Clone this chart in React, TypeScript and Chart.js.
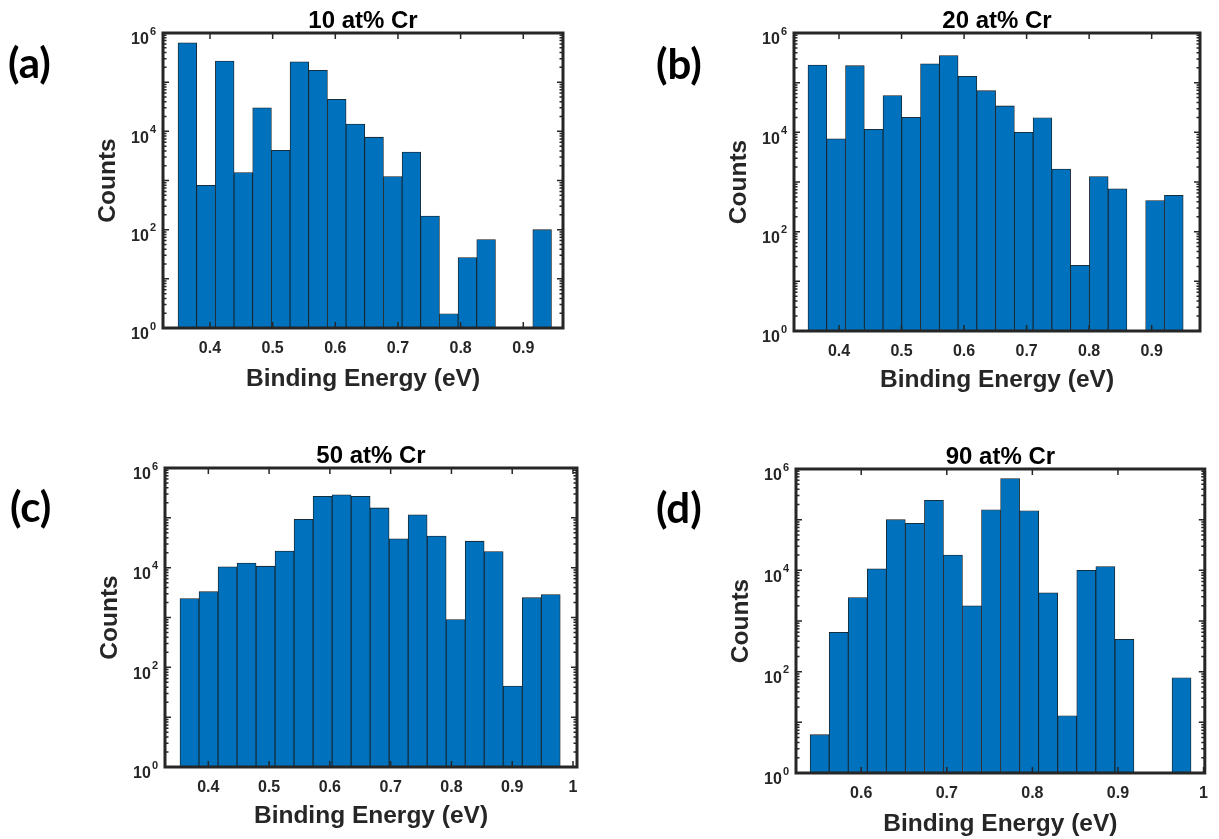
import React, { useEffect, useRef } from 'react';
import { Chart, registerables } from 'chart.js';

Chart.register(...registerables);

const FONT = "'Liberation Sans', Arial, Helvetica, sans-serif";
const LABEL_FONT = "Lato, 'Open Sans', 'DejaVu Sans', sans-serif";

// ---- Panel (a): 10 at% Cr ----
const binsA = [0.3639, 0.3937, 0.4235, 0.4533, 0.4831, 0.5129, 0.5427, 0.5725, 0.6023, 0.6321, 0.6619, 0.6917, 0.7215, 0.7513, 0.7811, 0.8109, 0.8407, 0.8705, 0.9003, 0.9301];
const countsA = [630000, 800, 270000, 1450, 30000, 4100, 260000, 174000, 45000, 14000, 7600, 1200, 3800, 190, 1.95, 27, 63, null, null, 100];

// ---- Panel (b): 20 at% Cr ----
const binsB = [0.3654, 0.3954, 0.4254, 0.4554, 0.4854, 0.5154, 0.5454, 0.5754, 0.6054, 0.6354, 0.6654, 0.6954, 0.7254, 0.7554, 0.7854, 0.8154, 0.8454, 0.8754, 0.9054, 0.9354];
const countsB = [226000, 7400, 220000, 11500, 55000, 20000, 240000, 350000, 134000, 69000, 34000, 10000, 19700, 1830, 21, 1290, 730, null, 425, 540];

// ---- Panel (c): 50 at% Cr ----
const binsC = [0.3690, 0.4003, 0.4316, 0.4629, 0.4942, 0.5254, 0.5567, 0.5880, 0.6193, 0.6506, 0.6818, 0.7131, 0.7444, 0.7757, 0.8070, 0.8382, 0.8695, 0.9008, 0.9321, 0.9634];
const countsC = [2400, 3300, 10400, 12400, 10700, 21500, 93000, 270000, 290000, 270000, 158000, 38000, 115000, 43000, 910, 34000, 21000, 42, 2500, 2900];

// ---- Panel (d): 90 at% Cr ----
const binsD = [0.5514, 0.5737, 0.5959, 0.6182, 0.6404, 0.6627, 0.6850, 0.7072, 0.7295, 0.7517, 0.7740, 0.7963, 0.8185, 0.8408, 0.8630, 0.8853, 0.9076, 0.9298, 0.9521, 0.9743];
const countsD = [5.7, 600, 2900, 10700, 100000, 85000, 240000, 20000, 2000, 157000, 650000, 150000, 3600, 13.5, 10000, 11900, 435, null, null, 76];

// ---- Tick labels ----
const xTicksAB = [0.4, 0.5, 0.6, 0.7, 0.8, 0.9];
const xTicksC = [0.4, 0.5, 0.6, 0.7, 0.8, 0.9, 1.0];
const xTicksD = [0.6, 0.7, 0.8, 0.9, 1.0];
const yTickValues = [1, 1e2, 1e4, 1e6];
const yTickExponents = ['0', '2', '4', '6'];

const titles = ['10 at% Cr', '20 at% Cr', '50 at% Cr', '90 at% Cr'];
const panelLabels = ['(a)', '(b)', '(c)', '(d)'];
const xAxisTitle = 'Binding Energy (eV)';
const yAxisTitle = 'Counts';

type PanelCfg = {
  bins: number[];
  counts: (number | null)[];
  xTicks: number[];
  xMin: number;
  xMax: number;
  title: string;
  label: string;
  box: { x: number; y: number; w: number; h: number };
  area: { l: number; t: number; r: number; b: number };
  labelPos: { x: number; y: number };
  xTitleGap: number;
};

const panels: PanelCfg[] = [
  {
    bins: binsA, counts: countsA, xTicks: xTicksAB, xMin: 0.325, xMax: 0.9634,
    title: titles[0], label: panelLabels[0],
    box: { x: 0, y: 0, w: 609, h: 420 },
    area: { l: 163, t: 33, r: 563, b: 328 },
    labelPos: { x: 8, y: 64 }, xTitleGap: 51,
  },
  {
    bins: binsB, counts: countsB, xTicks: xTicksAB, xMin: 0.328, xMax: 0.9773,
    title: titles[1], label: panelLabels[1],
    box: { x: 609, y: 0, w: 610, h: 420 },
    area: { l: 794, t: 33, r: 1200, b: 331 },
    labelPos: { x: 656, y: 65 }, xTitleGap: 49,
  },
  {
    bins: binsC, counts: countsC, xTicks: xTicksC, xMin: 0.3287, xMax: 1.0066,
    title: titles[2], label: panelLabels[2],
    box: { x: 0, y: 420, w: 609, h: 419 },
    area: { l: 165, t: 468, r: 577, b: 767 },
    labelPos: { x: 10, y: 508 }, xTitleGap: 49,
  },
  {
    bins: binsD, counts: countsD, xTicks: xTicksD, xMin: 0.5238, xMax: 1.0015,
    title: titles[3], label: panelLabels[3],
    box: { x: 609, y: 420, w: 610, h: 419 },
    area: { l: 796, t: 469, r: 1209, b: 773 },
    labelPos: { x: 656, y: 509 }, xTitleGap: 51,
  },
];

const AXIS_COLOR = '#262626';
const TITLE_SIZE = 24.5;
const HALF_LH = (TITLE_SIZE * 1.2) / 2;
const Y_TITLE_GAP = 55;

function framePlugin(c: PanelCfg) {
  return {
    id: 'frame',
    afterDraw(chart: any) {
      const { ctx, chartArea } = chart;
      const { left, right, top, bottom } = chartArea;
      const x = chart.scales.x;
      const y = chart.scales.y;
      ctx.save();
      ctx.strokeStyle = AXIS_COLOR;
      ctx.lineWidth = 1.5;
      ctx.beginPath();
      c.xTicks.forEach((v) => {
        const px = x.getPixelForValue(v);
        ctx.moveTo(px, bottom);
        ctx.lineTo(px, bottom - 6);
        ctx.moveTo(px, top);
        ctx.lineTo(px, top + 6);
      });
      for (let k = 0; k <= 6; k++) {
        const py = y.getPixelForValue(Math.pow(10, k));
        ctx.moveTo(left, py);
        ctx.lineTo(left + 6, py);
        ctx.moveTo(right, py);
        ctx.lineTo(right - 6, py);
        if (k < 6) {
          for (let m = 2; m <= 9; m++) {
            const pm = y.getPixelForValue(m * Math.pow(10, k));
            ctx.moveTo(left, pm);
            ctx.lineTo(left + 3.5, pm);
            ctx.moveTo(right, pm);
            ctx.lineTo(right - 3.5, pm);
          }
        }
      }
      ctx.stroke();
      ctx.lineWidth = 3;
      ctx.strokeRect(left, top, right - left, bottom - top);

      // y tick labels with superscript exponents
      ctx.fillStyle = AXIS_COLOR;
      ctx.textBaseline = 'middle';
      yTickValues.forEach((v, i) => {
        const py = y.getPixelForValue(v);
        ctx.font = `bold 11px ${FONT}`;
        const e = yTickExponents[i];
        const ew = ctx.measureText(e).width;
        const ex = left - 7 - ew;
        ctx.textAlign = 'left';
        ctx.fillText(e, ex, py - 1.5);
        ctx.font = `bold 16px ${FONT}`;
        ctx.textAlign = 'right';
        ctx.fillText('10', ex - 1, py + 7);
      });

      // panel title
      ctx.fillStyle = '#000';
      ctx.font = `bold 24px ${FONT}`;
      ctx.textAlign = 'center';
      ctx.textBaseline = 'alphabetic';
      ctx.fillText(c.title, (left + right) / 2, top - 5);

      // panel letter
      ctx.font = `bold 42px ${LABEL_FONT}`;
      ctx.textAlign = 'left';
      ctx.textBaseline = 'middle';
      ctx.fillText(c.label, c.labelPos.x - c.box.x, c.labelPos.y - c.box.y);
      ctx.restore();
    },
  };
}

function Panel({ cfg }: { cfg: PanelCfg }) {
  const ref = useRef<HTMLCanvasElement>(null);
  useEffect(() => {
    const c = cfg;
    const yW = Y_TITLE_GAP + HALF_LH;
    const xH = c.xTitleGap + HALF_LH;
    const chart = new Chart(ref.current as HTMLCanvasElement, {
      type: 'bar',
      data: {
        datasets: [
          {
            data: c.bins.map((b, i) => ({ x: b, y: c.counts[i] })) as any,
            backgroundColor: '#0072BD',
            borderColor: '#1a1a1a',
            borderWidth: 0.8,
            borderSkipped: false,
            barPercentage: 1,
            categoryPercentage: 1,
          },
        ],
      },
      options: {
        responsive: false,
        maintainAspectRatio: false,
        animation: false,
        devicePixelRatio: 1,
        events: [],
        layout: {
          padding: {
            left: c.area.l - c.box.x - yW,
            right: c.box.x + c.box.w - c.area.r,
            top: c.area.t - c.box.y,
            bottom: c.box.y + c.box.h - c.area.b - xH,
          },
        },
        plugins: {
          legend: { display: false },
          tooltip: { enabled: false },
          title: { display: false },
        },
        scales: {
          x: {
            type: 'linear',
            min: c.xMin,
            max: c.xMax,
            offset: false,
            grid: { display: false, drawTicks: false },
            border: { display: false },
            afterBuildTicks: (s: any) => {
              s.ticks = c.xTicks.map((v) => ({ value: v }));
            },
            afterFit: (s: any) => {
              s.height = xH;
            },
            ticks: {
              autoSkip: false,
              maxRotation: 0,
              padding: 11,
              color: AXIS_COLOR,
              font: { family: FONT, size: 16, weight: 'bold' },
              callback: (v: any) => (Number(v) === 1 ? '1' : Number(v).toFixed(1)),
            },
            title: {
              display: true,
              text: xAxisTitle,
              color: AXIS_COLOR,
              font: { family: FONT, size: TITLE_SIZE, weight: 'bold' },
              padding: { top: 0, bottom: 0 },
            },
          },
          y: {
            type: 'logarithmic',
            min: 1,
            max: 1e6,
            grid: { display: false, drawTicks: false },
            border: { display: false },
            ticks: { display: false },
            afterFit: (s: any) => {
              s.width = yW;
            },
            title: {
              display: true,
              text: yAxisTitle,
              color: AXIS_COLOR,
              font: { family: FONT, size: TITLE_SIZE, weight: 'bold' },
              padding: { top: 0, bottom: 0 },
            },
          },
        },
      } as any,
      plugins: [framePlugin(c)],
    });
    return () => chart.destroy();
  }, [cfg]);
  return (
    <canvas
      ref={ref}
      width={cfg.box.w}
      height={cfg.box.h}
      style={{ position: 'absolute', left: cfg.box.x, top: cfg.box.y, width: cfg.box.w, height: cfg.box.h }}
    />
  );
}

export default function App() {
  return (
    <div style={{ position: 'fixed', left: 0, top: 0, width: 1219, height: 839, background: '#fff', overflow: 'hidden' }}>
      {panels.map((p, i) => (
        <Panel key={i} cfg={p} />
      ))}
    </div>
  );
}
